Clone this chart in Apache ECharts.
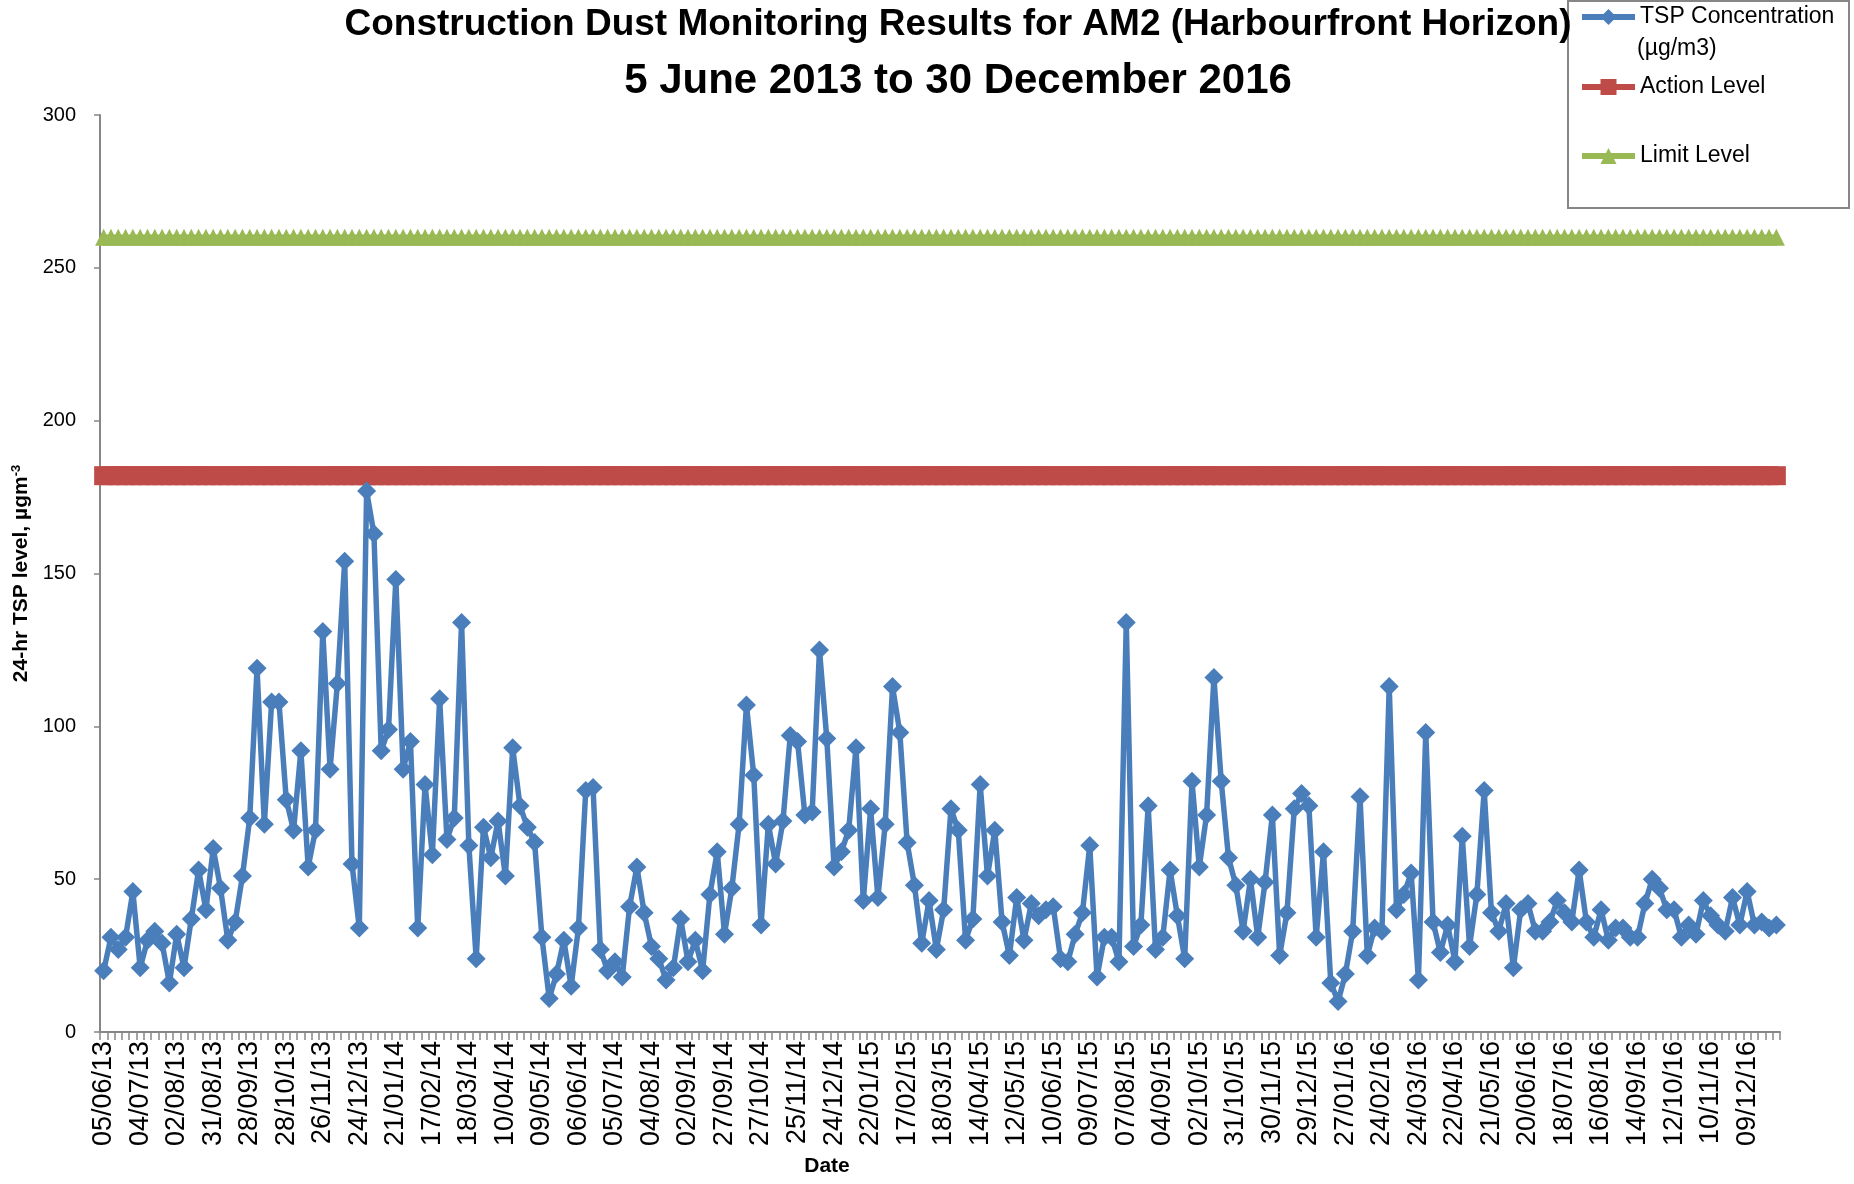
<!DOCTYPE html>
<html>
<head>
<meta charset="utf-8">
<script src="https://cdn.jsdelivr.net/npm/echarts@6/dist/echarts.min.js"></script>
<style>
html,body{margin:0;padding:0;background:#fff;}
#chart{width:1854px;height:1184px;}
</style>
</head>
<body>
<div id="chart"></div>
<script>
// ---- data ----
const titleLine1 = 'Construction Dust Monitoring Results for AM2 (Harbourfront Horizon)';
const titleLine2 = '5 June 2013 to 30 December 2016';
const seriesNames = ['TSP Concentration (µg/m3)', 'Action Level', 'Limit Level'];

// labelled dates (every 5th sample is labelled on the axis)
const tickLabels = [
  '05/06/13','04/07/13','02/08/13','31/08/13','28/09/13','28/10/13','26/11/13','24/12/13',
  '21/01/14','17/02/14','18/03/14','10/04/14','09/05/14','06/06/14','05/07/14','04/08/14',
  '02/09/14','27/09/14','27/10/14','25/11/14','24/12/14','22/01/15','17/02/15','18/03/15',
  '14/04/15','12/05/15','10/06/15','09/07/15','07/08/15','04/09/15','02/10/15','31/10/15',
  '30/11/15','29/12/15','27/01/16','24/02/16','24/03/16','22/04/16','21/05/16','20/06/16',
  '18/07/16','16/08/16','14/09/16','12/10/16','10/11/16','09/12/16'
];
const labelEvery = 5;

// 24-hr TSP values (µg/m3), one per sample
const tsp = [
  20,31,27,31,46,21,30,33,29,16,
  32,21,37,53,40,60,47,30,36,51,
  70,119,68,108,108,76,66,92,54,66,
  131,86,114,154,55,34,177,163,92,99,
  148,86,95,34,81,58,109,63,70,134,
  61,24,67,57,69,51,93,74,67,62,
  31,11,19,30,15,34,79,80,27,20,
  23,18,41,54,39,28,24,17,21,37,
  23,30,20,45,59,32,47,68,107,84,
  35,68,55,69,97,95,71,72,125,96,
  54,59,66,93,43,73,44,68,113,98,
  62,48,29,43,27,40,73,66,30,37,
  81,51,66,36,25,44,30,42,38,40,
  41,24,23,32,39,61,18,31,31,23,
  134,28,35,74,27,31,53,38,24,82,
  54,71,116,82,57,48,33,50,31,49,
  71,25,39,73,78,74,31,59,16,10,
  19,33,77,25,34,33,113,40,45,52,
  17,98,36,26,35,23,64,28,45,79,
  39,33,42,21,40,42,33,33,36,43,
  39,36,53,36,31,40,30,34,34,31,
  31,42,50,47,40,40,31,35,32,43,
  38,35,33,44,35,46,35,36,34,35
];
const actionLevel = 182;
const limitLevel = 260;
const yMin = 0, yMax = 300, yStep = 50;

// ---- build ----
const categories = tsp.map((v, i) => (i % labelEvery === 0 && tickLabels[i / labelEvery]) ? tickLabels[i / labelEvery] : '');
const actionData = tsp.map(() => actionLevel);
const limitData = tsp.map(() => limitLevel);

const FONT = 'Liberation Sans, Arial, sans-serif';
const AXIS = '#868686';
const BLUE = '#4A7EBB', RED = '#BE4B48', GREEN = '#98B954';

const chart = echarts.init(document.getElementById('chart'), null, {renderer: 'canvas'});
const legendCommon = {
  orient: 'horizontal', left: 1579, itemWidth: 53, itemHeight: 20, padding: 0, z: 10,
  textStyle: {fontFamily: FONT, fontSize: 23, color: '#000', lineHeight: 26},
  lineStyle: {width: 6},
  selectedMode: false
};
chart.setOption({
  animation: false,
  backgroundColor: '#fff',
  title: [
    {text: titleLine1, left: 958, top: 6, textAlign: 'center', padding: 0,
     textStyle: {fontFamily: FONT, fontSize: 37, fontWeight: 'bold', color: '#000'}},
    {text: titleLine2, left: 958, top: 60, textAlign: 'center', padding: 0,
     textStyle: {fontFamily: FONT, fontSize: 42, fontWeight: 'bold', color: '#000'}}
  ],
  graphic: [
    {type: 'rect', left: 1567, top: 0, z: 5,
     shape: {width: 281, height: 207},
     style: {fill: '#fff', stroke: AXIS, lineWidth: 2}},
    {type: 'text', left: 1637, top: 37, z: 11,
     style: {text: '(µg/m3)', font: '23px ' + FONT, fill: '#000'}}
  ],
  legend: [
    Object.assign({}, legendCommon, {top: 4, data: [seriesNames[0]], formatter: () => 'TSP Concentration'}),
    Object.assign({}, legendCommon, {top: 74, data: [seriesNames[1]]}),
    Object.assign({}, legendCommon, {top: 143, data: [seriesNames[2]]})
  ],
  grid: {left: 100, right: 74, top: 115, bottom: 152, containLabel: false},
  xAxis: {
    type: 'category', data: categories, boundaryGap: true,
    name: 'Date', nameLocation: 'middle', nameGap: 124,
    nameTextStyle: {fontFamily: FONT, fontSize: 21, fontWeight: 'bold', color: '#000', padding: [0, 226, 0, 0]},
    axisLine: {lineStyle: {color: AXIS, width: 2}},
    axisTick: {show: true, interval: 0, length: 8, lineStyle: {color: AXIS, width: 1.5}},
    axisLabel: {interval: labelEvery - 1, rotate: 90, margin: 9, fontFamily: FONT, fontSize: 27, color: '#000'},
    splitLine: {show: false}
  },
  yAxis: {
    type: 'value', min: yMin, max: yMax, interval: yStep,
    name: '24-hr TSP level, µgm{sup|-3}', nameLocation: 'middle', nameGap: 58, nameRotate: 90,
    nameTextStyle: {fontFamily: FONT, fontSize: 21, fontWeight: 'bold', color: '#000',
      rich: {sup: {fontFamily: FONT, fontSize: 13, fontWeight: 'bold', color: '#000', verticalAlign: 'top', padding: [0, 0, 10, 0]}}},
    axisLine: {show: true, lineStyle: {color: AXIS, width: 2}},
    axisTick: {show: true, length: 6, lineStyle: {color: AXIS, width: 1.5}},
    axisLabel: {margin: 24, fontFamily: FONT, fontSize: 20, color: '#000'},
    splitLine: {show: false}
  },
  series: [
    {name: seriesNames[0], type: 'line', data: tsp, z: 4,
     symbol: 'diamond', symbolSize: 19, showSymbol: true, showAllSymbol: true,
     lineStyle: {color: BLUE, width: 5.5}, itemStyle: {color: BLUE}},
    {name: seriesNames[1], type: 'line', data: actionData, z: 3,
     symbol: 'rect', symbolSize: 19, showSymbol: true, showAllSymbol: true, clip: false,
     lineStyle: {color: RED, width: 5.5}, itemStyle: {color: RED}},
    {name: seriesNames[2], type: 'line', data: limitData, z: 3,
     symbol: 'triangle', symbolSize: 17, showSymbol: true, showAllSymbol: true, clip: false,
     lineStyle: {color: GREEN, width: 5.5}, itemStyle: {color: GREEN}}
  ]
});
</script>
</body>
</html>
